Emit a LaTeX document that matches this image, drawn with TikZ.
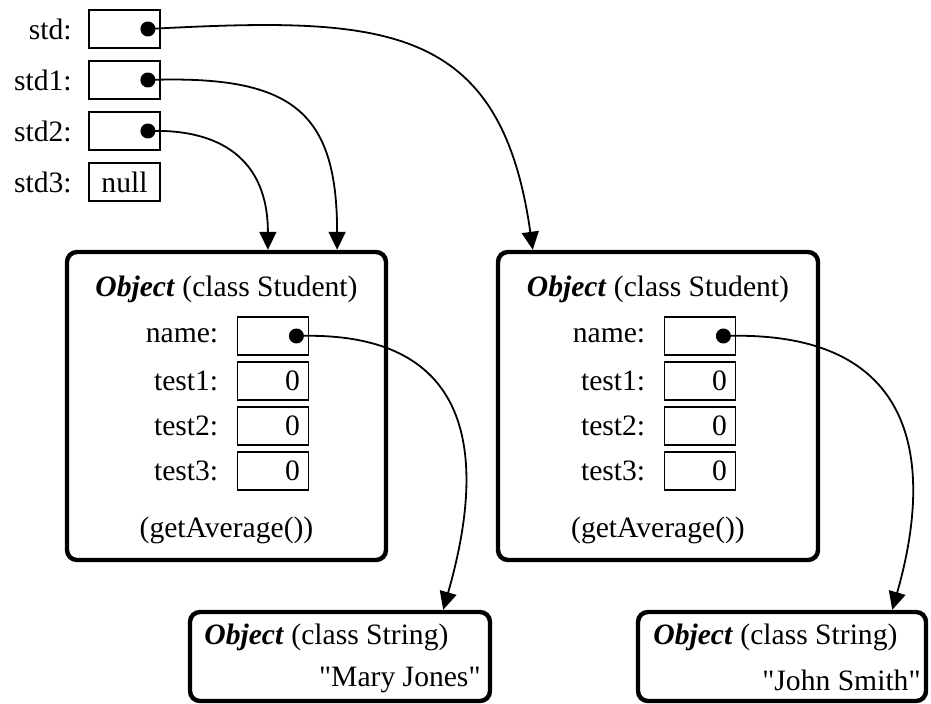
\documentclass[tikz,border=0pt]{standalone}
\usepackage{fontspec}
\setmainfont{Liberation Serif}
\usetikzlibrary{positioning,calc,arrows.meta}

\tikzset{
	cell/.style={draw, line width=0.9pt, minimum width=35.5pt, minimum height=19pt, inner sep=0pt},
	num/.style={cell, text width=27pt, inner xsep=4.25pt, align=right},
	obj/.style={draw, line width=2.2pt, rounded corners=5pt},
	dot/.style={circle, fill, inner sep=0pt, minimum size=7.5pt},
	ptr/.style={line width=0.9pt, -{Triangle[length=9pt,width=8.5pt]}}
}

\begin{document}
\begin{tikzpicture}[x=0.5pt, y=-0.5pt]
	\useasboundingbox (0,0) rectangle (931,704);
	\begin{scope}
		\tikzstyle{every node}=[inner sep=1pt, font=\fontsize{14.8}{17}\selectfont]
		% variables
		\node[cell] (std) at (124.5, 29) {};
		\node[cell] (std1) at (124.5, 80) {};
		\node[cell] (std2) at (124.5, 131) {};
		\node[cell] (std3) at (124.5, 182) {null};
		\node[left=7pt of std] (lstd) {std:};
		\node[left=7pt of std1] (lstd1) {std1:};
		\node[left=7pt of std2] (lstd2) {std2:};
		\node[left=7pt of std3] (lstd3) {std3:};
		\node[dot] (pstd) at ([xshift=-6.5pt]std.east) {};
		\node[dot] (pstd1) at ([xshift=-6.5pt]std1.east) {};
		\node[dot] (pstd2) at ([xshift=-6.5pt]std2.east) {};

		% the two students
		\node[obj, minimum width=159.5pt, minimum height=154pt] (stuA) at (226.5, 406) {};
		\node (hdA) at (226.5, 289) {\textbf{\textit{Object}} (class Student)};
		\node[cell] (nameA) at (273, 336) {};
		\node[num] (t1A) at (273, 381) {0};
		\node[num] (t2A) at (273, 426) {0};
		\node[num] (t3A) at (273, 471) {0};
		\node[left=8pt of nameA] (lnameA) {name:};
		\node[left=8pt of t1A] (lt1A) {test1:};
		\node[left=8pt of t2A] (lt2A) {test2:};
		\node[left=8pt of t3A] (lt3A) {test3:};
		\node (gaA) at (226.5, 530) {(getAverage())};
		\node[dot] (pnameA) at ([xshift=-6.5pt]nameA.east) {};

		\node[obj, minimum width=160pt, minimum height=154pt] (stuB) at (658, 406) {};
		\node (hdB) at (658, 289) {\textbf{\textit{Object}} (class Student)};
		\node[cell] (nameB) at (700, 336) {};
		\node[num] (t1B) at (700, 381) {0};
		\node[num] (t2B) at (700, 426) {0};
		\node[num] (t3B) at (700, 471) {0};
		\node[left=8pt of nameB] (lnameB) {name:};
		\node[left=8pt of t1B] (lt1B) {test1:};
		\node[left=8pt of t2B] (lt2B) {test2:};
		\node[left=8pt of t3B] (lt3B) {test3:};
		\node (gaB) at (658, 530) {(getAverage())};
		\node[dot] (pnameB) at ([xshift=-6.5pt]nameB.east) {};

		% the two strings
		\node[obj, minimum width=150pt, minimum height=44.5pt] (strA) at (340, 656.5) {};
		\node[anchor=west] (hsA) at (202, 637) {\textbf{\textit{Object}} (class String)};
		\node[anchor=east] (vsA) at (483, 680) {\textquotedbl Mary Jones\textquotedbl};
		\node[obj, minimum width=144pt, minimum height=44.5pt] (strB) at (782, 656.5) {};
		\node[anchor=west] (hsB) at (651, 637) {\textbf{\textit{Object}} (class String)};
		\node[anchor=east] (vsB) at (923, 680) {\textquotedbl John Smith\textquotedbl};

		\coordinate (inA1) at ($(stuA.north west)!0.628!(stuA.north east)$);
		\coordinate (inA2) at ($(stuA.north west)!0.842!(stuA.north east)$);
		\coordinate (inB) at ($(stuB.north west)!0.114!(stuB.north east)$);
		\coordinate (inSA) at ($(strA.north west)!0.839!(strA.north east)$);
		\coordinate (inSB) at ($(strB.north west)!0.877!(strB.north east)$);

		\draw[ptr] (pstd.center) to[out=3, in=98, out distance=117pt, in distance=116pt] (inB);
		\draw[ptr] (pstd1.center) to[out=2, in=90, out distance=71.5pt, in distance=70pt] (inA2);
		\draw[ptr] (pstd2.center) to[out=2, in=90, out distance=36.5pt, in distance=45pt] (inA1);
		\draw[ptr] (pnameA.center) to[out=2, in=74, out distance=97.5pt, in distance=67.5pt] (inSA);
		\draw[ptr] (pnameB.center) to[out=2, in=74, out distance=103.5pt, in distance=68.5pt] (inSB);
	\end{scope}
\end{tikzpicture}
\end{document}
